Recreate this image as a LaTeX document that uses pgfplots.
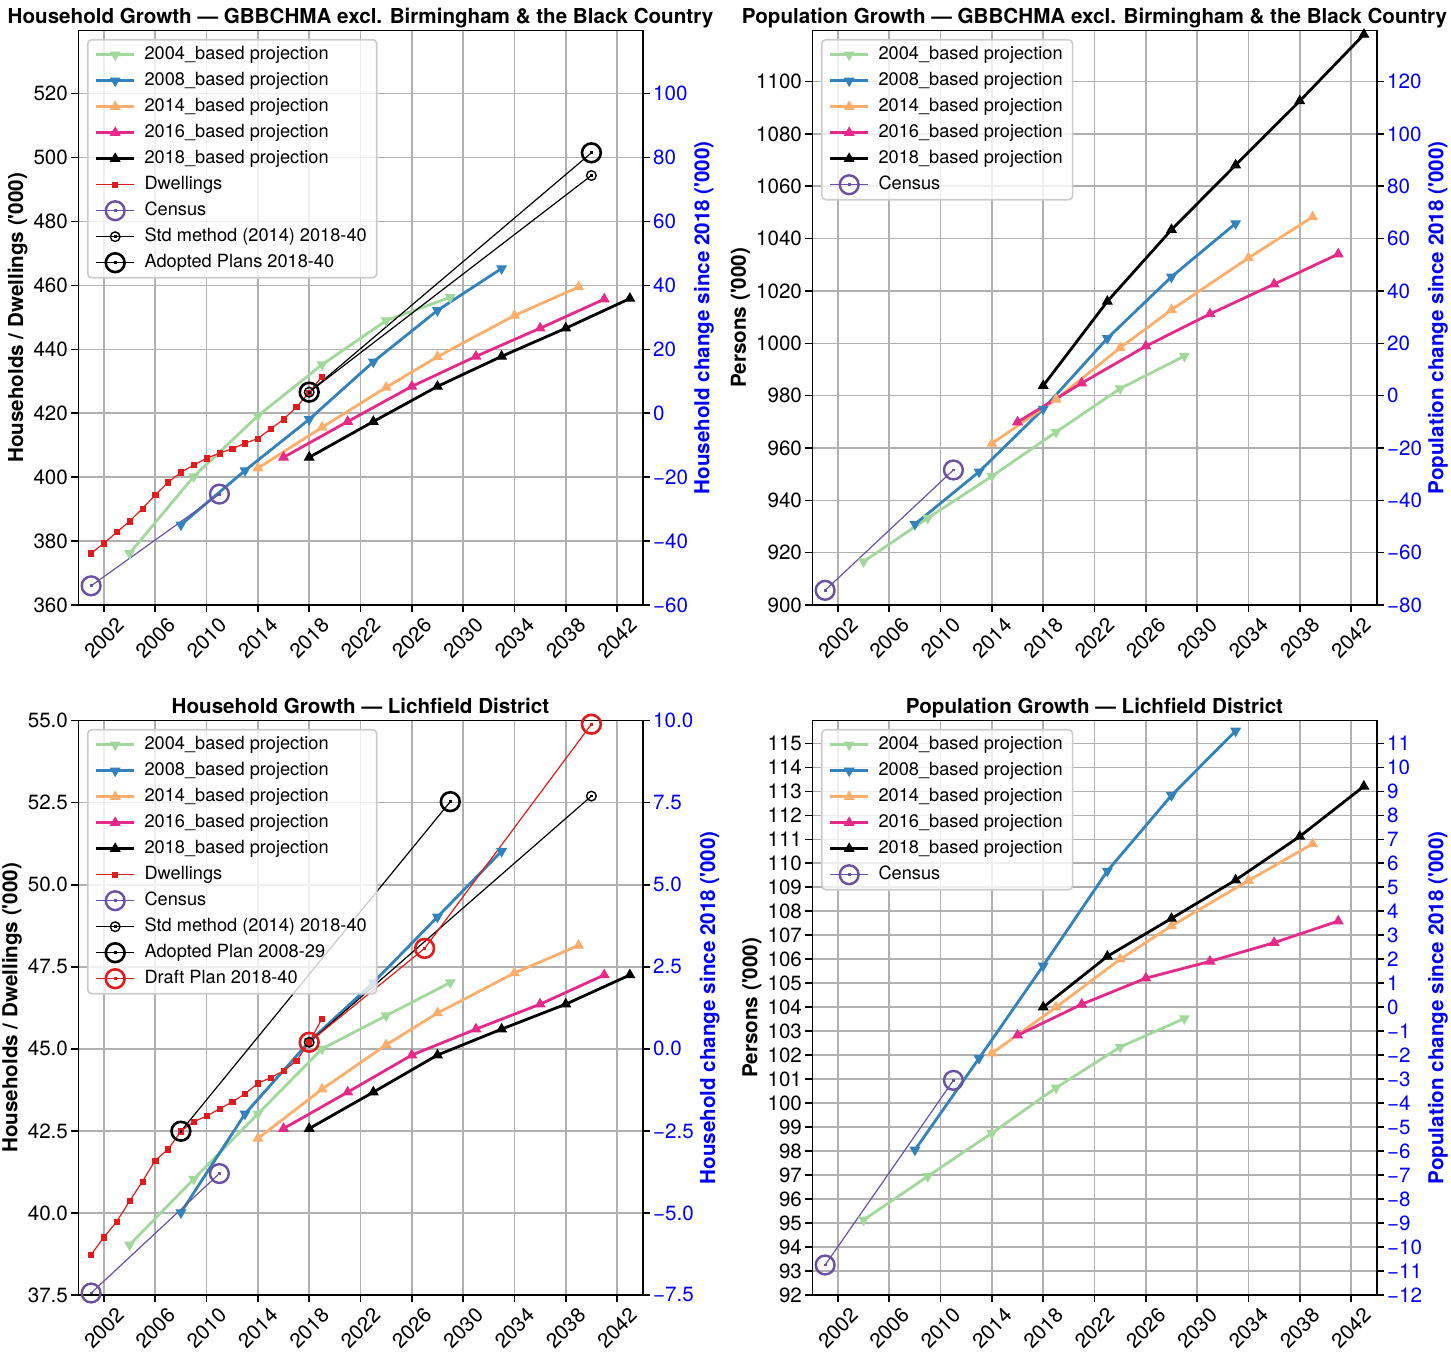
\documentclass[border=0pt]{standalone}
\usepackage{fontspec}
\setmainfont{TeX Gyre Heros}
\usepackage{pgfplots}
\pgfplotsset{compat=1.18}
\definecolor{cgreen}{HTML}{A1D99B}
\definecolor{cblue}{HTML}{3182BD}
\definecolor{corange}{HTML}{FDAE6B}
\definecolor{cpink}{HTML}{E7298A}
\definecolor{cred}{HTML}{E31A1C}
\definecolor{cpurple}{HTML}{6A51A3}
\definecolor{cgrid}{HTML}{B0B0B0}
\definecolor{clegend}{HTML}{CCCCCC}
\newcommand{\tickfont}{\fontsize{10.3bp}{12bp}\selectfont}
\newcommand{\legfont}{\fontsize{9.1bp}{11bp}\selectfont}
\newcommand{\labfont}{\bfseries\fontsize{10.3bp}{12bp}\selectfont}
\newcommand{\q}{\textquotesingle}
\pgfdeclareplotmark{tdown}{\pgfpathmoveto{\pgfqpoint{0pt}{-\pgfplotmarksize}}\pgfpathlineto{\pgfqpointpolar{30}{\pgfplotmarksize}}\pgfpathlineto{\pgfqpointpolar{150}{\pgfplotmarksize}}\pgfpathclose\pgfusepathqfillstroke}
\pgfdeclareplotmark{tup}{\pgfpathmoveto{\pgfqpoint{0pt}{\pgfplotmarksize}}\pgfpathlineto{\pgfqpointpolar{-30}{\pgfplotmarksize}}\pgfpathlineto{\pgfqpointpolar{210}{\pgfplotmarksize}}\pgfpathclose\pgfusepathqfillstroke}
\pgfdeclareplotmark{cdot}{\pgfpathcircle{\pgfpointorigin}{\pgfplotmarksize}\pgfusepathqstroke\pgfpathrectangle{\pgfqpoint{-0.7bp}{-0.7bp}}{\pgfqpoint{1.4bp}{1.4bp}}\pgfusepathqfill}
\pgfplotsset{
 proj/.style={color=#1, line width=1.4bp, mark size=2.7bp, mark options={solid, line width=0.5bp}},
 dwell/.style={color=cred, line width=0.6bp, mark=square*, mark size=1.3bp, mark options={line width=0.3bp}},
 census/.style={color=cpurple, line width=0.6bp, mark=cdot, mark size=4.7bp, mark options={line width=1.2bp}},
 stdm/.style={color=black, line width=0.6bp, mark=cdot, mark size=2.4bp, mark options={line width=0.7bp}},
 adopt/.style={color=black, line width=0.6bp, mark=cdot, mark size=4.7bp, mark options={line width=1.3bp}},
 draft/.style={color=cred, line width=0.6bp, mark=cdot, mark size=4.7bp, mark options={line width=1.3bp}},
 base/.style={
  scale only axis, width=282.2bp, height=287.2bp, anchor=south west,
  xmin=2000, xmax=2044, xtick={2002,2006,...,2042},
  grid=major, grid style={cgrid, line width=0.8bp},
  tick pos=left, tick align=outside, major tick length=3.5bp,
  tick style={black, line width=0.8bp},
  axis line style={black, line width=0.8bp},
  /pgf/number format/1000 sep={},
  /pgf/number format/assume math mode=true,
  tick label style={font=\tickfont},
  yticklabel style={inner xsep=1.5bp},
  xticklabel style={anchor=center, yshift=-13bp, rotate=45},
  title style={font=\labfont, anchor=base, yshift=-2.5bp},
  ylabel style={font=\labfont, yshift=-2bp},
  legend cell align=left,
  legend style={at={(0.0154,0.9855)}, anchor=north west, draw=clegend, line width=0.8bp, fill=white, fill opacity=0.8, text opacity=1, rounded corners=2bp, font=\legfont, inner xsep=3.5bp, inner ysep=1bp, column sep=3bp, nodes={text height=7bp, text depth=2bp, inner ysep=2bp, inner xsep=1.5bp}},
  legend image code/.code={\draw[mark repeat=2,mark phase=2,##1,sharp corners,fill opacity=1] plot coordinates {(0bp,0bp) (9.5bp,0bp) (19bp,0bp)};},
 },
 rax/.style={
  scale only axis, width=282.2bp, height=287.2bp, anchor=south west,
  xmin=2000, xmax=2044, axis x line=none, axis y line*=right,
  tick align=outside, major tick length=3.5bp,
  tick style={black, line width=0.8bp},
  axis line style={black, line width=0.8bp},
  tick label style={font=\tickfont, text=blue},
  yticklabel style={inner xsep=1.5bp},
  ylabel style={font=\labfont, text=blue, yshift=2bp},
 },
}
\begin{document}
\begin{tikzpicture}
\useasboundingbox (0,0) rectangle (725.5bp,676.5bp);
% ---------- Panel 1 ----------
\begin{axis}[base, at={(39.15bp,374bp)}, ymin=360, ymax=539.75, ytick={360,380,...,520},
 title={Household Growth — GBBCHMA excl. Birmingham \& the Black Country},
 ylabel={Households / Dwellings (\q000)}]
\addplot[proj=cgreen, mark=tdown] coordinates {(2004,376.2)(2009,400.2)(2014,419.2)(2019,435.2)(2024,449.0)(2029,456.3)};
\addplot[proj=cblue, mark=tdown] coordinates {(2008,385.1)(2013,402.1)(2018,418.1)(2023,436.1)(2028,452.2)(2033,465.3)};
\addplot[proj=corange, mark=tup] coordinates {(2014,402.8)(2019,415.6)(2024,428.1)(2028,437.7)(2034,450.6)(2039,459.5)};
\addplot[proj=cpink, mark=tup] coordinates {(2016,406.2)(2021,417.4)(2026,428.4)(2031,437.8)(2036,446.6)(2041,455.7)};
\addplot[proj=black, mark=tup] coordinates {(2018,406.2)(2023,417.4)(2028,428.4)(2033,437.8)(2038,446.6)(2043,455.9)};
\addplot[dwell] coordinates {(2001,376.2)(2002,379.3)(2003,382.8)(2004,386.2)(2005,390.2)(2006,394.4)(2007,398.4)(2008,401.5)(2009,403.8)(2010,405.9)(2011,407.5)(2012,408.9)(2013,410.6)(2014,412.1)(2015,415.1)(2016,418.1)(2017,421.9)(2018,426.5)(2019,431.5)};
\addplot[census] coordinates {(2001,366.0)(2011,394.7)};
\addplot[stdm] coordinates {(2018,426.6)(2040,494.4)};
\addplot[adopt] coordinates {(2018,426.6)(2040,501.5)};
\legend{2004\_based projection,2008\_based projection,2014\_based projection,2016\_based projection,2018\_based projection,Dwellings,Census,Std method (2014) 2018-40,Adopted Plans 2018-40}
\end{axis}
\begin{axis}[rax, at={(39.15bp,374bp)}, ymin=-60, ymax=119.75, ytick={-60,-40,...,100},
 yticklabels={−60,−40,−20,0,20,40,60,80,100},
 ylabel={Household change since 2018 (\q000)}]
\end{axis}
% ---------- Panel 2 ----------
\begin{axis}[base, at={(406.15bp,374bp)}, ymin=900, ymax=1119.5, ytick={900,920,...,1100},
 title={Population Growth — GBBCHMA excl. Birmingham \& the Black Country},
 ylabel={Persons (\q000)}]
\addplot[proj=cgreen, mark=tdown] coordinates {(2004,916.6)(2009,933.2)(2014,949.2)(2019,966.1)(2024,982.7)(2029,995.1)};
\addplot[proj=cblue, mark=tdown] coordinates {(2008,930.9)(2013,950.9)(2018,974.9)(2023,1001.9)(2028,1025.4)(2033,1045.8)};
\addplot[proj=corange, mark=tup] coordinates {(2014,961.7)(2019,978.6)(2024,998.3)(2028,1012.8)(2034,1032.6)(2039,1048.3)};
\addplot[proj=cpink, mark=tup] coordinates {(2016,969.9)(2021,984.8)(2026,998.9)(2031,1011.2)(2036,1022.6)(2041,1034.1)};
\addplot[proj=black, mark=tup] coordinates {(2018,983.8)(2023,1016.0)(2028,1043.4)(2033,1068.1)(2038,1092.6)(2043,1118.0)};
\addplot[census] coordinates {(2001,905.6)(2011,951.6)};
\legend{2004\_based projection,2008\_based projection,2014\_based projection,2016\_based projection,2018\_based projection,Census}
\end{axis}
\begin{axis}[rax, at={(406.15bp,374bp)}, ymin=-80, ymax=139.5, ytick={-80,-60,...,120},
 yticklabels={−80,−60,−40,−20,0,20,40,60,80,100,120},
 ylabel={Population change since 2018 (\q000)}]
\end{axis}
% ---------- Panel 3 ----------
\begin{axis}[base, at={(39.15bp,29bp)}, ymin=37.5, ymax=55, ytick={37.5,40,...,55},
 yticklabel style={/pgf/number format/.cd, fixed, fixed zerofill, precision=1},
 title={Household Growth — Lichfield District},
 ylabel={Households / Dwellings (\q000)}]
\addplot[proj=cgreen, mark=tdown] coordinates {(2004,39.03)(2009,41.03)(2014,43.02)(2019,45.0)(2024,46.01)(2029,47.02)};
\addplot[proj=cblue, mark=tdown] coordinates {(2008,40.01)(2013,43.02)(2018,45.22)(2023,47.02)(2028,49.02)(2033,51.02)};
\addplot[proj=corange, mark=tup] coordinates {(2014,42.27)(2019,43.77)(2024,45.12)(2028,46.09)(2034,47.31)(2039,48.15)};
\addplot[proj=cpink, mark=tup] coordinates {(2016,42.57)(2021,43.68)(2026,44.81)(2031,45.6)(2036,46.36)(2041,47.25)};
\addplot[proj=black, mark=tup] coordinates {(2018,42.57)(2023,43.68)(2028,44.81)(2033,45.6)(2038,46.36)(2043,47.25)};
\addplot[dwell] coordinates {(2001,38.73)(2002,39.26)(2003,39.74)(2004,40.36)(2005,40.96)(2006,41.60)(2007,41.94)(2008,42.49)(2009,42.78)(2010,42.95)(2011,43.17)(2012,43.38)(2013,43.63)(2014,43.95)(2015,44.12)(2016,44.33)(2017,44.63)(2018,45.20)(2019,45.92)};
\addplot[census] coordinates {(2001,37.56)(2011,41.2)};
\addplot[stdm] coordinates {(2018,45.2)(2040,52.7)};
\addplot[adopt] coordinates {(2008,42.49)(2029,52.53)};
\addplot[draft] coordinates {(2018,45.2)(2027,48.06)(2040,54.89)};
\legend{2004\_based projection,2008\_based projection,2014\_based projection,2016\_based projection,2018\_based projection,Dwellings,Census,Std method (2014) 2018-40,Adopted Plan 2008-29,Draft Plan 2018-40}
\end{axis}
\begin{axis}[rax, at={(39.15bp,29bp)}, ymin=-7.5, ymax=10, ytick={-7.5,-5,...,10},
 yticklabels={−7.5,−5.0,−2.5,0.0,2.5,5.0,7.5,10.0},
 ylabel={Household change since 2018 (\q000)}]
\end{axis}
% ---------- Panel 4 ----------
\begin{axis}[base, at={(406.15bp,29bp)}, ymin=92, ymax=115.95, ytick={92,93,...,115},
 title={Population Growth — Lichfield District},
 ylabel={Persons (\q000)}]
\addplot[proj=cgreen, mark=tdown] coordinates {(2004,95.13)(2009,96.95)(2014,98.75)(2019,100.64)(2024,102.34)(2029,103.53)};
\addplot[proj=cblue, mark=tdown] coordinates {(2008,98.05)(2013,101.87)(2018,105.73)(2023,109.68)(2028,112.83)(2033,115.52)};
\addplot[proj=corange, mark=tup] coordinates {(2014,102.08)(2019,104.0)(2024,106.0)(2028,107.39)(2034,109.28)(2039,110.81)};
\addplot[proj=cpink, mark=tup] coordinates {(2016,102.83)(2021,104.12)(2026,105.21)(2031,105.91)(2036,106.69)(2041,107.59)};
\addplot[proj=black, mark=tup] coordinates {(2018,104.0)(2023,106.12)(2028,107.7)(2033,109.3)(2038,111.12)(2043,113.21)};
\addplot[census] coordinates {(2001,93.25)(2011,100.95)};
\legend{2004\_based projection,2008\_based projection,2014\_based projection,2016\_based projection,2018\_based projection,Census}
\end{axis}
\begin{axis}[rax, at={(406.15bp,29bp)}, ymin=-12, ymax=11.95, ytick={-12,-11,...,11},
 yticklabels={−12,−11,−10,−9,−8,−7,−6,−5,−4,−3,−2,−1,0,1,2,3,4,5,6,7,8,9,10,11},
 ylabel={Population change since 2018 (\q000)}]
\end{axis}
\end{tikzpicture}
\end{document}
